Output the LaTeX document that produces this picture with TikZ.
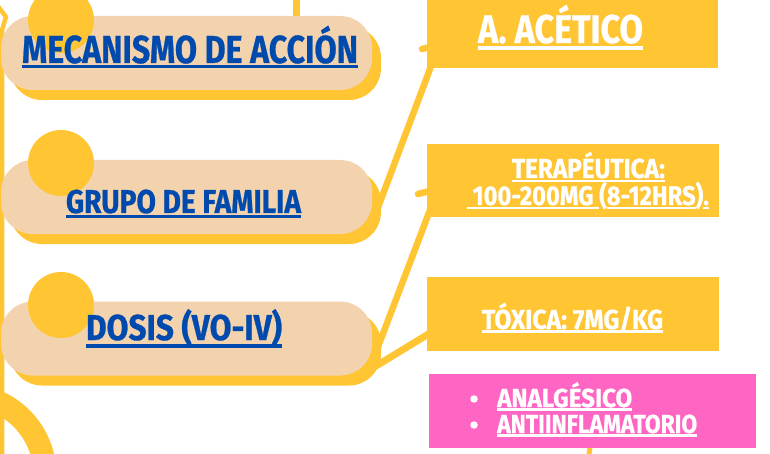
\documentclass[tikz,border=0pt]{standalone}
\usepackage{fontspec}
\newfontfamily\hf{Fira Sans}[FakeBold=0.8]
\definecolor{ylw}{HTML}{FFC533}
\definecolor{beige}{HTML}{F3D3AE}
\definecolor{blu}{HTML}{004AAD}
\definecolor{pnk}{HTML}{FF66C4}
\newsavebox\fitbox
\newsavebox\ulbox
\newcommand\fitw[2]{\sbox\fitbox{#2}\pgfmathsetmacro\fitsx{#1/\wd\fitbox}\scalebox{\fitsx}[1]{\usebox\fitbox}}
\newcommand\myul[3]{\sbox\ulbox{#3}\rlap{\rule[-#1]{\wd\ulbox}{#2}}\usebox\ulbox}
\tikzset{
  pill/.style={fill=beige, rounded corners=32pt, minimum width=371pt, minimum height=74pt, inner sep=0pt},
  pillshadow/.style={pill, fill=ylw},
  yellowdot/.style={circle, fill=ylw, minimum size=66pt, inner sep=0pt},
  ybox/.style={fill=ylw, inner sep=0pt},
  pbox/.style={fill=pnk, inner sep=0pt},
  conn/.style={draw=ylw, line width=6.5pt, line cap=round, line join=round},
  rail/.style={draw=ylw, line width=4.5pt, line join=round},
  lbl/.style={inner sep=0pt, anchor=base, font=\hf\bfseries},
  bullet/.style={circle, fill=white, minimum size=7.5pt, inner sep=0pt},
}
\begin{document}
\begin{tikzpicture}[x=1pt,y=-1pt]
\useasboundingbox (0,0) rectangle (770,454);
\clip (0,0) rectangle (770,454);
\fill[white] (0,0) rectangle (770,454);
% rails and ring
\coordinate (r0) at (-3,5);
\coordinate (r1) at (6,17);
\coordinate (r2) at (2,30);
\coordinate (r3) at (2,470);
\draw[rail] (r0) -- (r1) -- (r2) -- (r3);
\coordinate (ringc) at (-35,475);
\draw[ylw, line width=23pt] (ringc) circle (80);
\coordinate (v0) at (296.5,-5);
\coordinate (v1) at (296.5,40);
\draw[ylw, line width=7pt] (v0) -- (v1);
% connectors
\coordinate (a1) at (377,210);
\coordinate (a1t) at (439,45);
\coordinate (a1s) at (422,49);
\coordinate (a2) at (376,352);
\coordinate (a2t) at (438,189);
\coordinate (a2s) at (418,194);
\coordinate (a3) at (376,366);
\coordinate (a3t) at (440,327);
\draw[conn] (a1) -- (a1t) -- (a1s);
\draw[conn] (a2) -- (a2t) -- (a2s);
\draw[conn, line width=7pt] (a3) -- (a3t);
\coordinate (pl0) at (591,440);
\coordinate (pl1) at (588,462);
\draw[ylw, line width=5pt] (pl0) -- (pl1);
% pills
\node[pillshadow] (s1) at (195.5,63) {};
\node[pill] (p1) at (186.5,53) {};
\node[pillshadow] (s2) at (195.5,207) {};
\node[pill] (p2) at (186.5,197) {};
\node[pillshadow] (s3) at (195.5,348.5) {};
\node[pill] (p3) at (186.5,338.5) {};
\node[yellowdot] (d1) at (61,20) {};
\node[yellowdot] (d2) at (61,163) {};
\node[yellowdot] (d3) at (61,305) {};
% right boxes
\node[ybox, minimum width=291pt, minimum height=68pt] (b1) at (572.5,34) {};
\node[ybox, minimum width=292pt, minimum height=73pt] (b2) at (573,180.5) {};
\node[ybox, minimum width=292pt, minimum height=74pt] (b3) at (573,314) {};
\node[pbox, minimum width=327pt, minimum height=74pt] (b4) at (592.5,411) {};
% texts
\node[lbl, text=blu] (t1) at (190,63) {\fontsize{39}{39}\selectfont\myul{5.5pt}{3.3pt}{\fitw{336}{MECANISMO DE ACCIÓN}}};
\node[lbl, text=blu] (t2) at (183.5,213) {\fontsize{33}{33}\selectfont\myul{5.5pt}{3.5pt}{\fitw{235}{GRUPO DE FAMILIA}}};
\node[lbl, text=blu] (t3) at (184,340) {\fontsize{36}{36}\selectfont\myul{7.5pt}{3.3pt}{\fitw{196}{DOSIS (VO-IV)}}};
\node[lbl, text=white] (t4) at (560.5,43) {\fontsize{40}{40}\selectfont\myul{7pt}{3.5pt}{\fitw{165}{A. ACÉTICO}}};
\node[lbl, text=white] (t5) at (588.5,178) {\fontsize{27.5}{27.5}\selectfont\myul{4.5pt}{2.6pt}{\fitw{153}{TERAPÉUTICA:}}};
\node[lbl, text=white] (t6) at (588,205) {\fontsize{27}{27}\selectfont\fitw{242}{\myul{4.3pt}{2.6pt}{\ 100-200MG\ }(\myul{4.3pt}{2.6pt}{8-12HRS})\myul{4.3pt}{2.6pt}{.}}};
\node[lbl, text=white] (t7) at (572.5,329) {\fontsize{27.5}{27.5}\selectfont\myul{3.5pt}{2.7pt}{\fitw{181}{TÓXICA: 7MG/KG}}};
\node[bullet] (u1) at (474,399) {};
\node[bullet] (u2) at (474,425) {};
\node[lbl, text=white, anchor=base west] (t8) at (497,407) {\fontsize{26}{26}\selectfont\myul{3.7pt}{2.7pt}{\fitw{135}{ANALGÉSICO}}};
\node[lbl, text=white, anchor=base west] (t9) at (497,433) {\fontsize{26}{26}\selectfont\myul{4pt}{3pt}{\fitw{200}{ANTIINFLAMATORIO}}};
\end{tikzpicture}
\end{document}
